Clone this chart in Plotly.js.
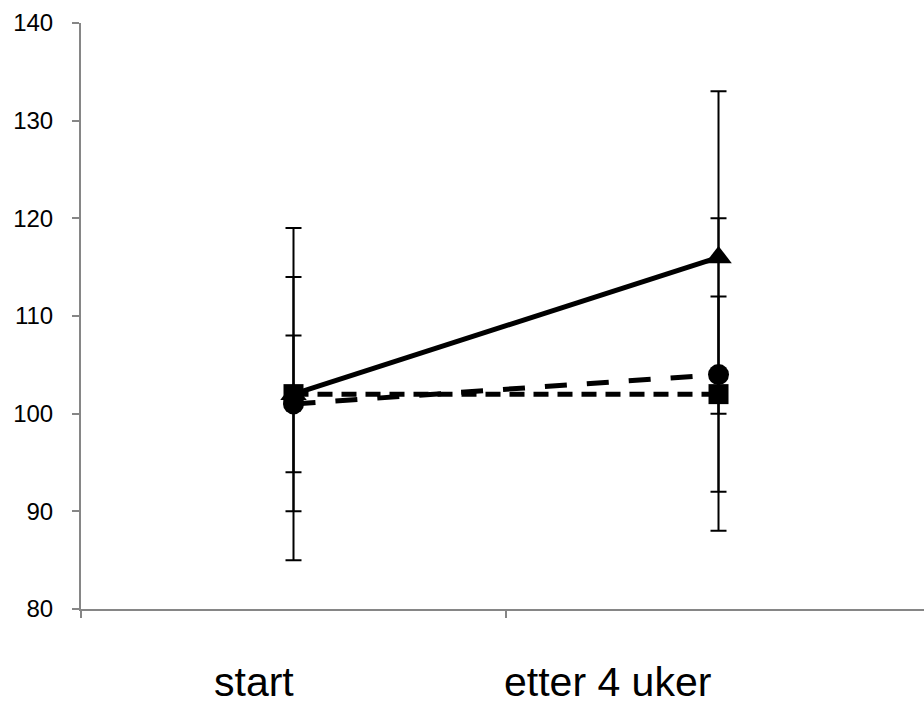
<!DOCTYPE html>
<html>
<head>
<meta charset="utf-8">
<script src="https://cdn.plot.ly/plotly-3.0.1.min.js"></script>
<style>html,body{margin:0;padding:0;background:#fff;}#chart{width:924px;height:704px;}</style>
</head>
<body>
<div id="chart"></div>
<script>
const categories = ['start', 'etter 4 uker'];
const labelPos = [0.205, 0.625];

const triValues = [102, 116];
const triErrPlus = [17, 17];
const triErrMinus = [17, 16];

const circValues = [101, 104];
const circErr = [7, 16];

const sqValues = [102, 102];
const sqErr = [12, 10];

const yTicks = [80, 90, 100, 110, 120, 130, 140];

const xIdx = categories.map((c, i) => i);

function errBar(plus, minus) {
  return {type: 'data', array: plus, arrayminus: minus || plus, symmetric: !minus,
          visible: true, color: '#000', thickness: 2, width: 8};
}

const traces = [
  {x: xIdx, y: triValues, mode: 'lines+markers', name: 'A',
   line: {color: '#000', width: 5, dash: 'solid'},
   marker: {symbol: 'triangle-up', size: 23, color: '#000'},
   error_y: errBar(triErrPlus, triErrMinus)},
  {x: xIdx, y: circValues, mode: 'lines+markers', name: 'B',
   line: {color: '#000', width: 5, dash: '22px,20px'},
   marker: {symbol: 'circle', size: 21, color: '#000'},
   error_y: errBar(circErr)},
  {x: xIdx, y: sqValues, mode: 'lines+markers', name: 'C',
   line: {color: '#000', width: 5, dash: '15px,9px'},
   marker: {symbol: 'square', size: 20, color: '#000'},
   error_y: errBar(sqErr)}
];

const layout = {
  width: 924, height: 704,
  margin: {l: 81, r: 0, t: 23, b: 95, pad: 0},
  paper_bgcolor: '#fff', plot_bgcolor: '#fff',
  showlegend: false,
  font: {family: 'Liberation Sans, Arial, sans-serif', color: '#000'},
  xaxis: {
    range: [-0.5, 1.4835], showgrid: false, zeroline: false,
    tickmode: 'array', tickvals: [-0.5, 0.5, 1.5], showticklabels: false,
    ticks: 'outside', ticklen: 7, tickwidth: 2, tickcolor: '#868686',
    showline: true, linecolor: '#868686', linewidth: 2
  },
  yaxis: {
    range: [80, 140], showgrid: false, zeroline: false,
    tickmode: 'array', tickvals: yTicks, ticktext: yTicks.map(String),
    ticks: 'outside', ticklen: 7, tickwidth: 2, tickcolor: '#868686',
    showline: true, linecolor: '#868686', linewidth: 2,
    tickfont: {size: 24, color: '#000'}, ticklabelstandoff: 14
  },
  annotations: categories.map((c, i) => ({
    text: c, xref: 'paper', yref: 'paper', x: labelPos[i], y: -0.125,
    xanchor: 'center', yanchor: 'middle', showarrow: false,
    font: {size: 41, color: '#000', family: 'Liberation Sans, Arial, sans-serif'}
  }))
};

Plotly.newPlot('chart', traces, layout, {displayModeBar: false, staticPlot: true});
</script>
</body>
</html>
